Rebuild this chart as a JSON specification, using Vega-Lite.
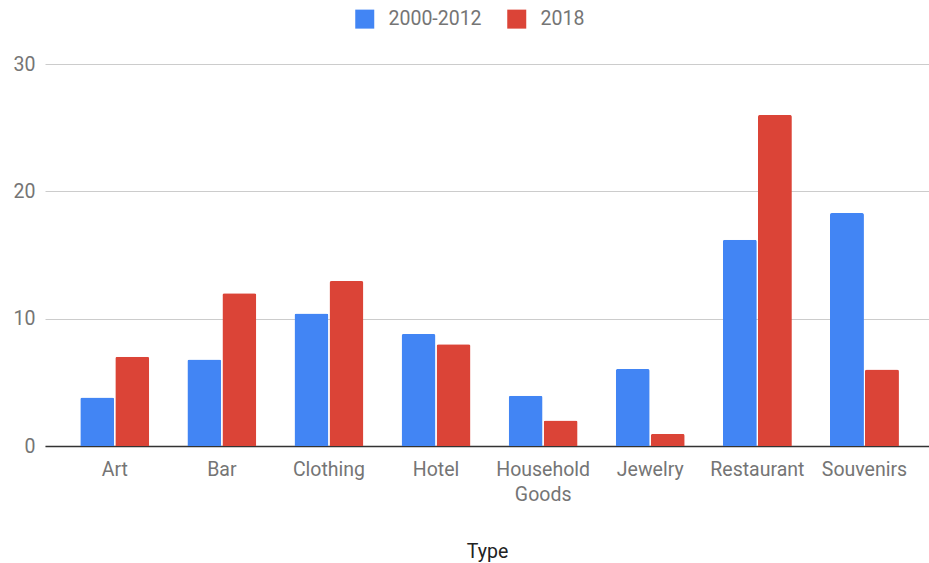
{
  "$schema": "https://vega.github.io/schema/vega-lite/v6.json",
  "width": 884,
  "height": 382,
  "autosize": {"type": "none"},
  "padding": {"left": 45, "top": 64, "right": 0, "bottom": 117},
  "background": "white",
  "config": {
    "view": {"stroke": null},
    "font": "Roboto"
  },
  "data": {
    "values": [
      {"Type": "Art", "Series": "2000-2012", "Value": 3.8},
      {"Type": "Art", "Series": "2018", "Value": 7.0},
      {"Type": "Bar", "Series": "2000-2012", "Value": 6.8},
      {"Type": "Bar", "Series": "2018", "Value": 12.0},
      {"Type": "Clothing", "Series": "2000-2012", "Value": 10.4},
      {"Type": "Clothing", "Series": "2018", "Value": 12.95},
      {"Type": "Hotel", "Series": "2000-2012", "Value": 8.8},
      {"Type": "Hotel", "Series": "2018", "Value": 8.0},
      {"Type": "Household Goods", "Series": "2000-2012", "Value": 3.95},
      {"Type": "Household Goods", "Series": "2018", "Value": 2.0},
      {"Type": "Jewelry", "Series": "2000-2012", "Value": 6.05},
      {"Type": "Jewelry", "Series": "2018", "Value": 0.95},
      {"Type": "Restaurant", "Series": "2000-2012", "Value": 16.2},
      {"Type": "Restaurant", "Series": "2018", "Value": 26.0},
      {"Type": "Souvenirs", "Series": "2000-2012", "Value": 18.3},
      {"Type": "Souvenirs", "Series": "2018", "Value": 6.0}
    ]
  },
  "mark": {"type": "bar", "cornerRadiusTopLeft": 2, "cornerRadiusTopRight": 2},
  "encoding": {
    "x": {
      "field": "Type",
      "type": "nominal",
      "sort": null,
      "scale": {"paddingInner": 0.356, "paddingOuter": 0.305, "align": 0.54},
      "axis": {
        "title": "Type",
        "titleFont": "Roboto",
        "titleFontSize": 19.5,
        "titleFontWeight": "normal",
        "titleColor": "#222222",
        "titlePadding": 39,
        "labelAngle": 0,
        "labelFont": "Roboto",
        "labelFontSize": 19.5,
        "labelColor": "#757575",
        "labelPadding": 14,
        "labelLineHeight": 25,
        "labelExpr": "split(datum.label, ' ')",
        "ticks": false,
        "domain": true,
        "domainColor": "#333333",
        "domainWidth": 1.5,
        "grid": false
      }
    },
    "xOffset": {
      "field": "Series",
      "type": "nominal",
      "scale": {"paddingInner": 0.03, "paddingOuter": 0}
    },
    "y": {
      "field": "Value",
      "type": "quantitative",
      "scale": {"domain": [0, 30], "nice": false},
      "axis": {
        "title": null,
        "values": [0, 10, 20, 30],
        "labelFont": "Roboto",
        "labelFontSize": 19.5,
        "labelColor": "#757575",
        "labelPadding": 10,
        "ticks": false,
        "domain": false,
        "grid": true,
        "gridColor": "#cccccc",
        "gridWidth": 1
      }
    },
    "color": {
      "field": "Series",
      "type": "nominal",
      "scale": {"domain": ["2000-2012", "2018"], "range": ["#4285F4", "#DB4437"]},
      "legend": {
        "title": null,
        "orient": "none",
        "legendX": 310,
        "legendY": -55,
        "direction": "horizontal",
        "symbolType": "square",
        "symbolSize": 361,
        "symbolStrokeWidth": 0,
        "labelFont": "Roboto",
        "labelFontSize": 19.5,
        "labelColor": "#757575",
        "labelOffset": 14,
        "columnPadding": 25
      }
    }
  }
}
